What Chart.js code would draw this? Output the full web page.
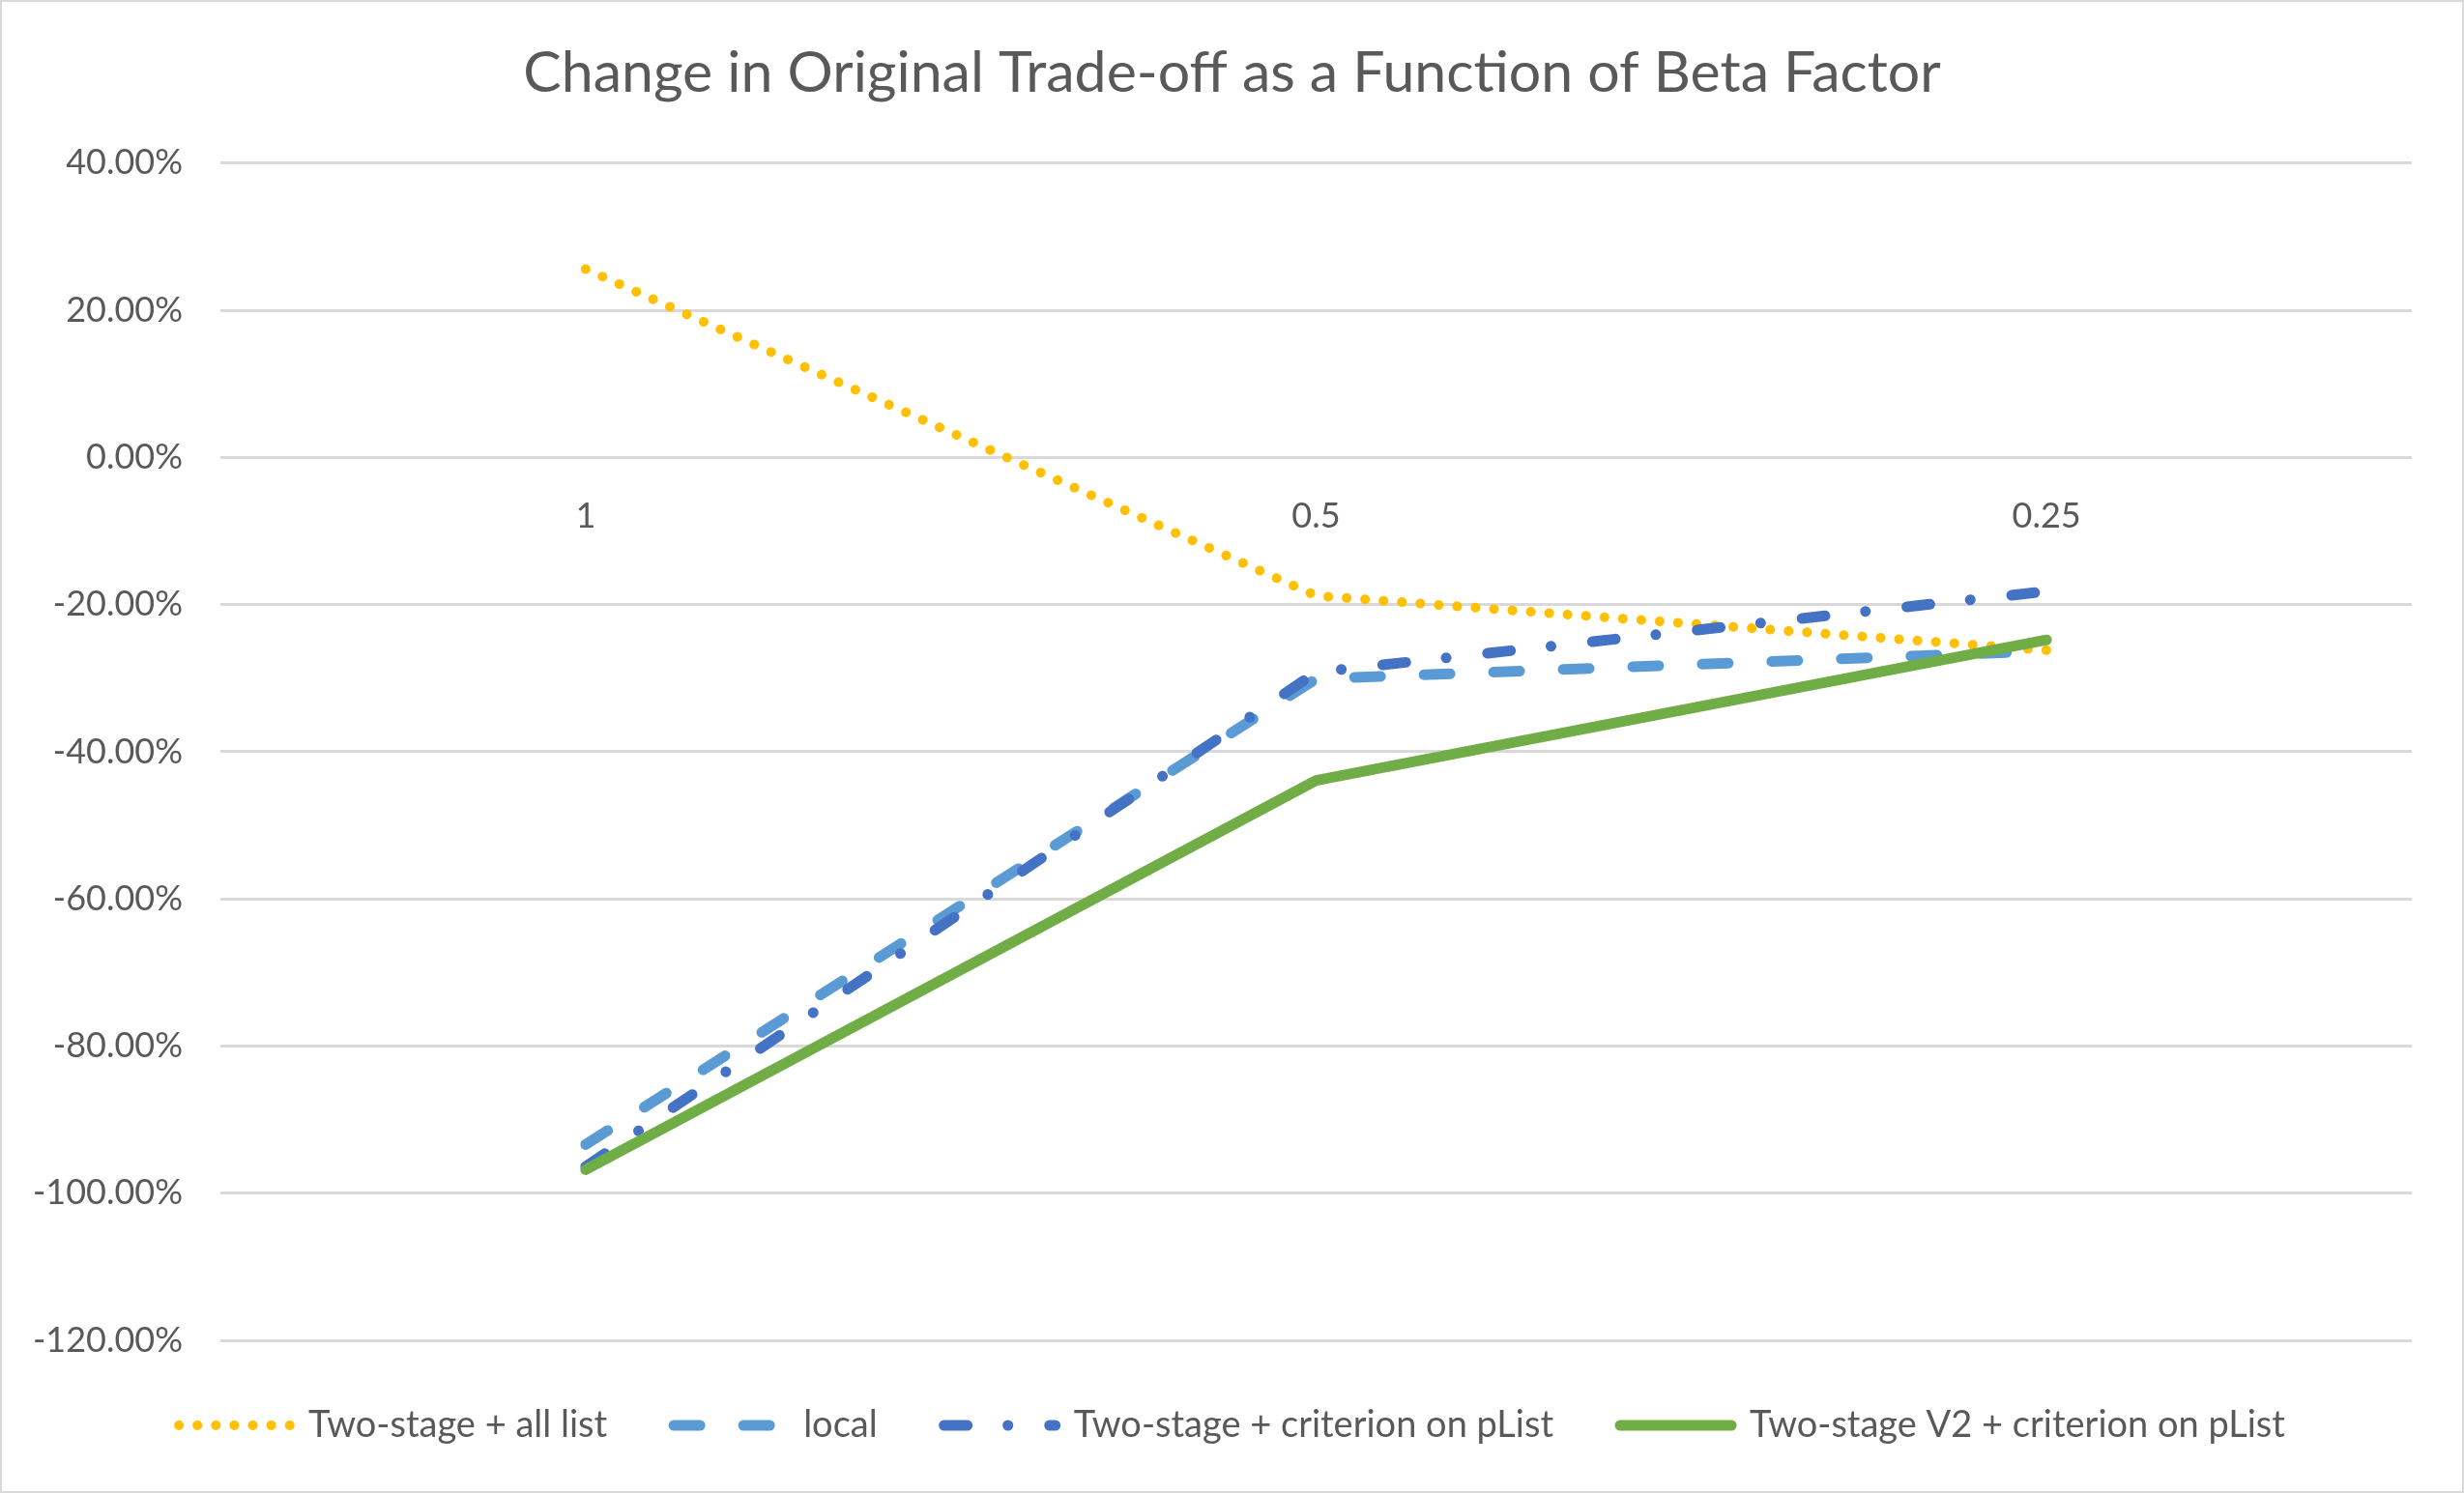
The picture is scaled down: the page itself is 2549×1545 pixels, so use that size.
<!DOCTYPE html>
<html>
<head>
<meta charset="utf-8">
<script src="https://cdn.jsdelivr.net/npm/chart.js"></script>
<style>
  html, body { margin: 0; padding: 0; background: #fff; }
  .wrap { width: 2549px; height: 1545px; box-sizing: border-box; border: 2px solid #d9d9d9; }
</style>
</head>
<body>
<div class="wrap"><canvas id="tradeoffChart"></canvas></div>
<script>
// beta factor categories and the % change of each method
const betaLabels = ["1", "0.5", "0.25"];
const twoStageAllList = [25.6, -18.8, -26.2];
const localSearch = [-93.4, -30.1, -26.3];
const twoStageCriterion = [-96.4, -29.2, -18.2];
const twoStageV2Criterion = [-96.8, -43.9, -24.8];
const yTicks = [-120, -100, -80, -60, -40, -20, 0, 20, 40];

const textColor = "#595959";
const fontFamily = "Lato, 'Open Sans', sans-serif";

document.addEventListener("DOMContentLoaded", () => {

  const ctx = document.getElementById("tradeoffChart");

  new Chart(ctx, {
    type: 'line',
    data: {
      labels: betaLabels,
      datasets: [{
        label: "Two-stage + all list",
        data: twoStageAllList,
        borderColor: "#FFC000",
        borderWidth: 10,
        borderDash: [0.1, 19],
        borderCapStyle: 'round',
        order: 4
      }, {
        label: "local",
        data: localSearch,
        borderColor: "#5B9BD5",
        borderWidth: 11,
        borderDash: [27, 45],
        borderCapStyle: 'round',
        order: 3
      }, {
        label: "Two-stage + criterion on pList",
        data: twoStageCriterion,
        borderColor: "#4472C4",
        borderWidth: 11,
        borderDash: [24, 42, 0.1, 43],
        borderCapStyle: 'round',
        order: 2
      }, {
        label: "Two-stage V2 + criterion on pList",
        data: twoStageV2Criterion,
        borderColor: "#70AD47",
        borderWidth: 11,
        borderCapStyle: 'round',
        order: 1
      }]
    },
    options: {
      responsive: true,
      maintainAspectRatio: false,
      animation: false,
      devicePixelRatio: 1,
      layout: {
        padding: { left: 0, right: 0, top: 0, bottom: 39 }
      },
      elements: {
        point: { radius: 0, hoverRadius: 0 },
        line: { tension: 0, borderJoinStyle: 'round', fill: false }
      },
      plugins: {
        tooltip: { enabled: false },
        title: {
          display: true,
          text: "Change in Original Trade-off as a Function of Beta Factor",
          color: textColor,
          font: { family: fontFamily, size: 59, weight: 'normal' },
          padding: { top: 39, bottom: 57 }
        },
        legend: {
          position: 'bottom',
          labels: {
            usePointStyle: true,
            pointStyleWidth: 115,
            padding: 69,
            color: textColor,
            font: { family: fontFamily, size: 38 },
            generateLabels: (chart) => chart.data.datasets.map((ds, i) => ({
              text: ds.label,
              datasetIndex: i,
              pointStyle: 'line',
              strokeStyle: ds.borderColor,
              fillStyle: ds.borderColor,
              lineWidth: ds.borderWidth,
              lineDash: ds.borderDash || [],
              lineCap: 'round',
              fontColor: textColor,
              hidden: false
            }))
          }
        }
      },
      scales: {
        x: {
          type: 'category',
          offset: true,
          position: { y: 0 },
          grid: { display: false },
          border: { display: false },
          ticks: {
            padding: 31,
            color: textColor,
            font: { family: fontFamily, size: 36 }
          }
        },
        y: {
          min: -120,
          max: 40,
          afterBuildTicks: (scale) => {
            scale.ticks = yTicks.map(v => ({ value: v }));
          },
          afterFit: (scale) => {
            scale.width = 226;
          },
          grid: { color: "#D9D9D9", lineWidth: 3, drawTicks: false },
          border: { display: false },
          ticks: {
            padding: 39,
            color: textColor,
            font: { family: fontFamily, size: 36 },
            callback: (value) => value.toFixed(2) + "%"
          }
        },
        // empty right margin so title and legend stay centred on the page
        yRight: {
          position: 'right',
          grid: { display: false },
          border: { display: false },
          ticks: { display: false },
          afterFit: (scale) => {
            scale.width = 52;
          }
        }
      }
    }
  });

});
</script>
</body>
</html>
